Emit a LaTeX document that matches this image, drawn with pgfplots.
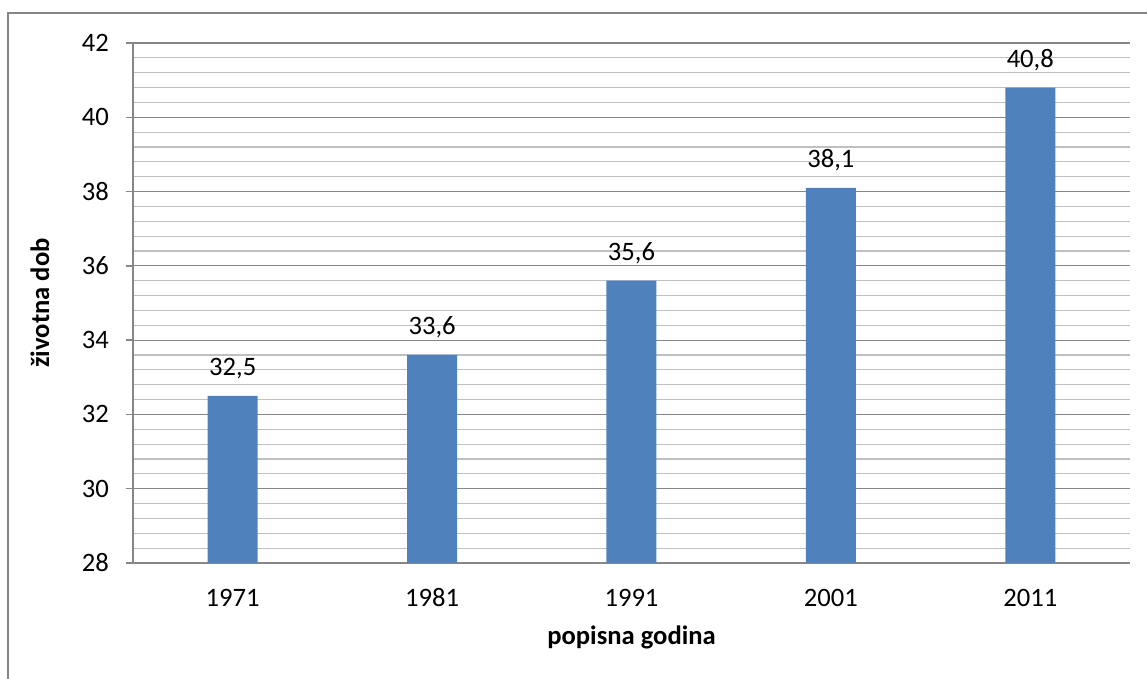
\documentclass[border=0pt]{standalone}
\usepackage{pgfplots}
\pgfplotsset{compat=1.18}
\usepackage{fontspec}
\setmainfont{Carlito}
\definecolor{barblue}{HTML}{4F81BD}
\definecolor{framec}{RGB}{134,134,134}
\definecolor{majgrid}{RGB}{134,134,134}
\definecolor{mingrid}{RGB}{192,192,192}
\begin{document}
\begin{tikzpicture}[x=1pt,y=1pt]
\useasboundingbox (0,0) rectangle (573.5,339.5);
\begin{scope}
\clip (0,0) rectangle (573.5,339.5);
\draw[framec, line width=0.75pt] (4,-20) -- (4,333) -- (600,333);
\end{scope}
\begin{axis}[
  at={(66.5pt,58pt)}, anchor=south west,
  width=498.5pt, height=260pt, scale only axis,
  xmin=-0.5, xmax=4.5, ymin=28, ymax=42,
  ytick={28,30,...,42}, minor y tick num=4,
  ymajorgrids, yminorgrids,
  major grid style={majgrid, line width=0.6pt},
  minor grid style={mingrid, line width=0.6pt},
  xtick={0,...,4}, xticklabels={1971,1981,1991,2001,2011},
  major x tick style={draw=none},
  minor y tick style={draw=none},
  axis lines*=left,
  axis line style={majgrid, line width=0.75pt},
  y tick style={majgrid, line width=0.75pt},
  tick align=outside, major tick length=3.5pt,
  tick label style={font=\fontsize{13.3}{15}\selectfont},
  /pgf/number format/assume math mode=true,
  yticklabel style={xshift=-5pt},
  xticklabel style={anchor=north, text height=1.6ex, text depth=0pt, yshift=-7pt},
  ybar, bar width=25pt,
  nodes near coords={\pgfmathprintnumber[use comma,fixed,precision=1,fixed zerofill]{\pgfplotspointmeta}},
  nodes near coords style={font=\fontsize{13.3}{15}\selectfont, yshift=5pt},
  xlabel={\textbf{popisna godina}},
  ylabel={\textbf{životna dob}},
  label style={font=\fontsize{13.3}{15}\selectfont},
  xlabel style={at={(axis description cs:0.5,-0.1423)}, anchor=center},
  ylabel style={at={(axis description cs:-0.0933,0.5)}, anchor=center, rotate=0},
]
\addplot[fill=barblue, draw=none] coordinates {(0,32.5) (1,33.6) (2,35.6) (3,38.1) (4,40.8)};
\end{axis}
\end{tikzpicture}
\end{document}
